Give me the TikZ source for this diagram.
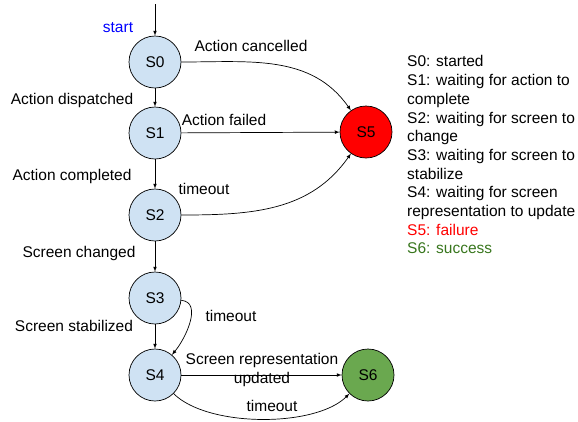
\documentclass[tikz,border=0pt]{standalone}
\usepackage{fontspec}
\setmainfont{Liberation Sans}
\usetikzlibrary{positioning,arrows}

\definecolor{stateblue}{HTML}{CFE2F3}
\definecolor{failred}{HTML}{FF0000}
\definecolor{okgreen}{HTML}{6AA84F}
\definecolor{okgreentext}{HTML}{38761D}

\begin{document}
\begin{tikzpicture}[x=1pt,y=1pt,font=\fontsize{15.5}{18.7}\selectfont,
        state/.style={circle,draw,minimum size=52pt,inner sep=0pt,fill=stateblue,line width=0.7pt},
        edge/.style={-latex,line width=0.7pt}]
        \useasboundingbox (0,0) rectangle (578,-421);
        % states
        \node[state] (S0) at (155,-62) {S0};
        \node[state] (S1) at (155,-133) {S1};
        \node[state] (S2) at (155,-215) {S2};
        \node[state] (S3) at (155,-298) {S3};
        \node[state] (S4) at (155,-375) {S4};
        \node[state,fill=failred] (S5) at (366,-132) {S5};
        \node[state,fill=okgreen] (S6) at (368,-375) {S6};
        \coordinate (init) at (155,-4);
        % transitions
        \draw[edge] (init) -- (S0);
        \draw[edge] (S0) -- (S1);
        \draw[edge] (S1) -- (S2);
        \draw[edge] (S2) -- (S3);
        \draw[edge] (S3) -- (S4);
        \draw[edge] (S0) to[out=0,in=125] (S5);
        \draw[edge] (S1) -- (S5);
        \draw[edge] (S2) to[out=0,in=-125] (S5);
        \draw[edge] (S3) to[out=-5,in=50] (S4);
        \draw[edge] (S4) -- (S6);
        \draw[edge] (S4) to[out=-45,in=-135,looseness=0.7] (S6);
        % labels
        \node[text=blue] (lstart) at (118,-28) {start};
        \node (lcancel) at (251,-46) {Action cancelled};
        \node (ldispatch) at (72,-100) {Action dispatched};
        \node (lfail) at (224,-120) {Action failed};
        \node (lcomplete) at (72,-176) {Action completed};
        \node (ltimeouta) at (204,-189) {timeout};
        \node (lchange) at (79,-253) {Screen changed};
        \node (lstable) at (74,-326) {Screen stabilized};
        \node (ltimeoutb) at (231,-316) {timeout};
        \node[align=center,inner sep=0pt] (lupdate) at (262,-370) {Screen representation\\updated};
        \node (ltimeoutc) at (272,-406) {timeout};
        % legend
        \node[anchor=north west,align=left,inner sep=0pt] (legend) at (407,-55.5) {S0: started\\
                S1: waiting for action to\\complete\\
                S2: waiting for screen to\\change\\
                S3: waiting for screen to\\stabilize\\
                S4: waiting for screen\\representation to update\\
                \textcolor{failred}{S5: failure}\\
                \textcolor{okgreentext}{S6: success}};
\end{tikzpicture}
\end{document}
